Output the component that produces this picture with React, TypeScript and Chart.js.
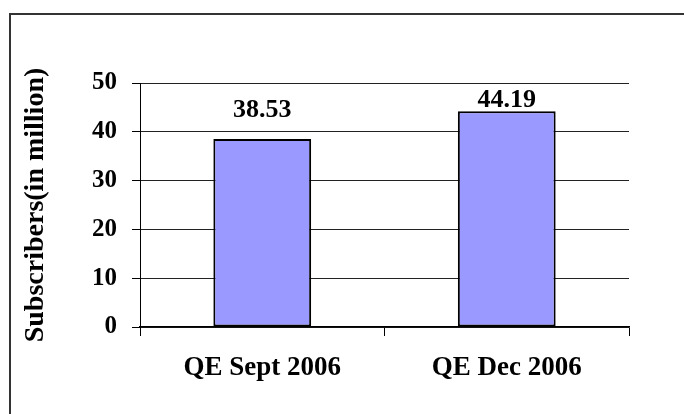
import React, { useEffect, useRef } from "react";
import { Chart, registerables } from "chart.js";

Chart.register(...registerables);

const categories = ["QE Sept 2006", "QE Dec 2006"];
const subscribers = [38.53, 44.19];
const yTicks = [0, 10, 20, 30, 40, 50];
const yTitle = "Subscribers(in million)";

const FONT = "'Liberation Serif', 'Times New Roman', serif";

const valueLabels = {
  id: "valueLabels",
  afterDatasetsDraw(chart: any) {
    const { ctx, chartArea } = chart;
    const meta = chart.getDatasetMeta(0);
    ctx.save();
    ctx.font = `bold 26px ${FONT}`;
    ctx.fillStyle = "#000";
    ctx.textAlign = "center";
    ctx.textBaseline = "alphabetic";
    meta.data.forEach((bar: any, i: number) => {
      const y = Math.max(bar.y - 22, chartArea.top + 24);
      ctx.fillText(subscribers[i].toFixed(2), bar.x, y);
    });
    ctx.restore();
  },
};

export default function App() {
  const ref = useRef<HTMLCanvasElement>(null);
  useEffect(() => {
    if (!ref.current) return;
    const chart = new Chart(ref.current, {
      type: "bar",
      data: {
        labels: categories,
        datasets: [
          {
            data: subscribers,
            backgroundColor: "#9999FF",
            borderColor: "#000",
            borderWidth: 2,
            borderSkipped: false,
            barPercentage: 0.4,
            categoryPercentage: 1,
          },
        ],
      },
      options: {
        responsive: false,
        animation: false,
        layout: { padding: { left: 0, top: 83, right: 55, bottom: 0 } },
        plugins: { legend: { display: false }, tooltip: { enabled: false } },
        scales: {
          x: {
            offset: true,
            afterFit: (s: any) => {
              s.height = 87;
            },
            grid: {
              offset: true,
              drawOnChartArea: true,
              color: (c: any) => (c.index === categories.length ? "#555" : "rgba(0,0,0,0)"),
              tickColor: "#000",
              tickLength: 9,
              lineWidth: 1,
            },
            border: { display: true, color: "#000", width: 1.5 },
            ticks: {
              color: "#000",
              padding: 16,
              font: { family: FONT, size: 27, weight: "bold", lineHeight: 1.2 },
            },
          },
          y: {
            min: 0,
            max: 50,
            afterFit: (s: any) => {
              s.width = 140;
            },
            afterBuildTicks: (s: any) => {
              s.ticks = yTicks.map((v) => ({ value: v }));
            },
            grid: { color: "#222", lineWidth: 1, tickLength: 8, tickColor: "#000" },
            border: { display: true, color: "#000", width: 1 },
            ticks: {
              color: "#000",
              padding: 15,
              font: { family: FONT, size: 25, weight: "bold", lineHeight: 1.2 },
            },
            title: {
              display: true,
              text: yTitle,
              color: "#000",
              padding: { top: 19, bottom: 0 },
              font: { family: FONT, size: 28, weight: "bold", lineHeight: 1.2 },
            },
          },
        },
      },
      plugins: [valueLabels],
    } as any);
    return () => chart.destroy();
  }, []);
  return (
    <div
      style={{
        position: "fixed",
        left: 0,
        top: 0,
        width: 684,
        height: 414,
        overflow: "hidden",
        background: "#fff",
      }}
    >
      <canvas ref={ref} width={684} height={414} style={{ position: "absolute", left: 0, top: 0 }} />
      <div
        style={{
          position: "absolute",
          left: 9,
          top: 13,
          width: 800,
          height: 600,
          border: "2px solid #333",
          pointerEvents: "none",
        }}
      />
    </div>
  );
}
